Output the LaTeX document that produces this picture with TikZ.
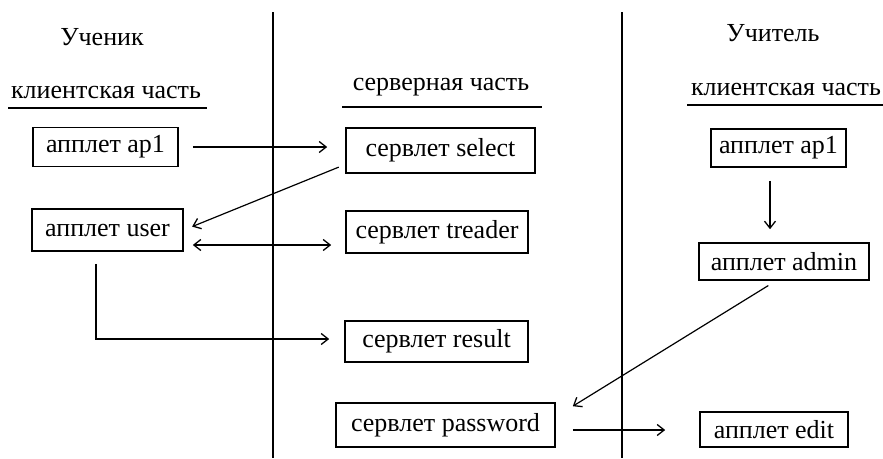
\documentclass[tikz,border=0pt]{standalone}
\usepackage{fontspec}
\setmainfont{Liberation Serif}
\usetikzlibrary{positioning,arrows.meta}

\begin{document}
\begin{tikzpicture}[x=1pt ,y=-1pt ,>={Straight Barb[length=7pt,width=11pt,line width=1.3pt]},
,
box/.style ={ draw ,line width=1.6pt ,inner sep=0pt ,font=\fontsize{26}{30}\selectfont},
title/.style ={ inner sep=0pt ,font=\fontsize{26}{30}\selectfont},
link/.style ={ -> ,line width=1.2pt}]
\useasboundingbox (0,0) rectangle (883,458);

% columns
\draw[line width=1.3pt] (273,12) -- (273,458);
\draw[line width=1.3pt] (622,12) -- (622,458);

\node[title] (Student) at (102,37) {Ученик};
\node[title] (ClientLeft) at (106,92) {клиентская часть};
\draw[line width=1.3pt] (8,108) -- (207,108);
\node[title] (Server) at (441,87) {серверная часть};
\draw[line width=1.3pt] (342,107) -- (542,107);
\node[title] (Teacher) at (773,33) {Учитель};
\node[title] (ClientRight) at (786,89) {клиентская часть};
\draw[line width=1.3pt] (687,105) -- (883,105);

\node[box ,minimum width=145pt ,minimum height=39pt] (ApletAp1L) at (105.5,147) {апплет ap1};
\node[box ,minimum width=151pt ,minimum height=42pt] (ApletUser) at (107.5,230) {апплет user};
\node[box ,minimum width=189pt ,minimum height=45pt] (ServletSelect) at (440.5,150.5) {сервлет select};
\node[box ,minimum width=182pt ,minimum height=42pt] (ServletTreader) at (437,232) {сервлет treader};
\node[box ,minimum width=183pt ,minimum height=41pt] (ServletResult) at (436.5,341.5) {сервлет result};
\node[box ,minimum width=219pt ,minimum height=44pt] (ServletPassword) at (445.5,425) {сервлет password};
\node[box ,minimum width=135pt ,minimum height=38pt] (ApletAp1R) at (778.5,148) {апплет ap1};
\node[box ,minimum width=170pt ,minimum height=37pt] (ApletAdmin) at (784,261.5) {апплет admin};
\node[box ,minimum width=148pt ,minimum height=35pt] (ApletEdit) at (774,429.5) {апплет edit};

\draw[link ,shorten <=14pt ,shorten >=18pt] (ApletAp1L.east) -- (ApletAp1L.east -| ServletSelect.west);
\draw[link ,shorten <=7pt ,shorten >=9pt] ([yshift=-14pt]ServletSelect.west) -- (ApletUser.east);
\draw[link ,<-> ,shorten <=9pt ,shorten >=14pt] ([yshift=-15pt]ApletUser.east) -- ([yshift=-15pt]ApletUser.east -| ServletTreader.west);
\draw[link ,shorten <=12pt ,shorten >=15pt] ([xshift=-11.5pt]ApletUser.south) |- ([yshift=2.5pt]ServletResult.west);
\draw[link ,shorten <=13pt ,shorten >=13pt] ([xshift=-8.5pt]ApletAp1R.south) -- ([xshift=-8.5pt]ApletAp1R.south |- ApletAdmin.north);
\draw[link ,shorten <=9pt] ([xshift=-8pt]ApletAdmin.south) -- ([xshift=17pt ,yshift=-4pt]ServletPassword.north east);
\draw[link ,shorten <=17pt ,shorten >=34pt] ([yshift=-5pt]ServletPassword.east) -- ([yshift=-5pt]ServletPassword.east -| ApletEdit.west);
\end{tikzpicture}
\end{document}
